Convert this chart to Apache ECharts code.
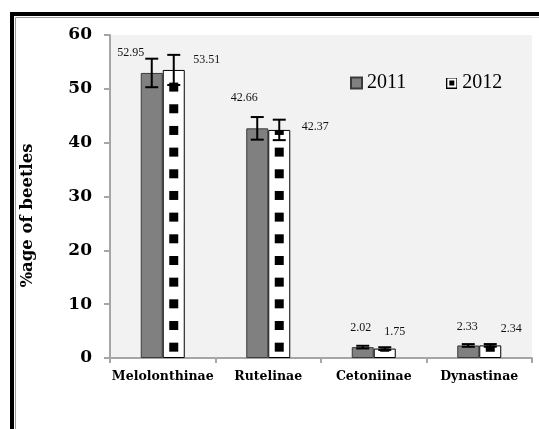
<!DOCTYPE html>
<html>
<head>
<meta charset="utf-8">
<style>
  html, body { margin: 0; padding: 0; background: #fff; }
  #chart { width: 539px; height: 429px; }
</style>
<script src="https://cdn.jsdelivr.net/npm/echarts@6/dist/echarts.min.js"></script>
</head>
<body>
<div id="chart"></div>
<script>
var categories = ['Melolonthinae', 'Rutelinae', 'Cetoniinae', 'Dynastinae'];
var values2011 = [52.95, 42.66, 2.02, 2.33];
var values2012 = [53.51, 42.37, 1.75, 2.34];
var errors2011 = [2.65, 2.1, 0.25, 0.25];
var errors2012 = [2.8, 1.9, 0.25, 0.25];
var yTicks = [0, 10, 20, 30, 40, 50, 60];

// hand placed value labels, like the original
var labelShift2011 = [[-21, -9], [-13, -20], [-2, -8], [-1, -8]];
var labelShift2012 = [[33, 1], [36, 8], [10, -6], [21, -6]];

var heavy = 'DejaVu Serif';
var serif = 'Liberation Serif';

function legendIcon() {
  var c = document.createElement('canvas');
  c.width = 11; c.height = 11;
  var g = c.getContext('2d');
  g.fillStyle = '#fff';
  g.fillRect(0, 0, 11, 11);
  g.strokeStyle = '#000';
  g.lineWidth = 1;
  g.strokeRect(0.5, 0.5, 10, 10);
  g.fillStyle = '#000';
  g.fillRect(3, 3, 5, 5);
  return 'image://' + c.toDataURL();
}

function barData(values, shifts) {
  return values.map(function (v, i) {
    return { value: v, label: { offset: shifts[i] } };
  });
}

function errorSeries(name, values, errors, shift) {
  return {
    type: 'custom',
    name: name,
    z: 5,
    silent: true,
    data: values.map(function (v, i) { return [i, v, errors[i]]; }),
    encode: { x: 0, y: 1 },
    renderItem: function (params, api) {
      var i = api.value(0), v = api.value(1), e = api.value(2);
      var hi = api.coord([i, v + e]);
      var lo = api.coord([i, v - e]);
      var x = hi[0] + shift;
      var st = { stroke: '#000', lineWidth: 2 };
      return {
        type: 'group',
        children: [
          { type: 'line', shape: { x1: x, y1: hi[1], x2: x, y2: lo[1] }, style: st },
          { type: 'line', shape: { x1: x - 6.5, y1: hi[1], x2: x + 6.5, y2: hi[1] }, style: st },
          { type: 'line', shape: { x1: x - 6.5, y1: lo[1], x2: x + 6.5, y2: lo[1] }, style: st }
        ]
      };
    }
  };
}

var chart = echarts.init(document.getElementById('chart'));

chart.setOption({
  animation: false,
  backgroundColor: '#fff',
  graphic: [
    { type: 'rect', shape: { x: 12, y: 14, width: 600, height: 500 },
      style: { fill: 'none', stroke: '#000', lineWidth: 4 }, z: -1 },
    { type: 'rect', shape: { x: 15.5, y: 17.5, width: 600, height: 500 },
      style: { fill: 'none', stroke: '#9a9a9a', lineWidth: 1 }, z: -1 }
  ],
  grid: {
    left: 110, right: 7, top: 35, bottom: 71,
    show: true, backgroundColor: '#f2f2f2', borderWidth: 0
  },
  legend: {
    data: [
      { name: '2011', icon: 'rect' },
      { name: '2012', icon: legendIcon() }
    ],
    left: 345, top: 68,
    itemWidth: 11, itemHeight: 11, itemGap: 40,
    textStyle: { fontFamily: serif, fontSize: 20, color: '#000' }
  },
  xAxis: {
    type: 'category',
    data: categories,
    axisLine: { lineStyle: { color: '#a6a6a6', width: 2 } },
    axisTick: { show: true, length: 5, lineStyle: { color: '#a6a6a6', width: 2 } },
    axisLabel: { interval: 0, fontFamily: heavy, fontWeight: 'bold', fontSize: 12.5, color: '#000', margin: 12 }
  },
  yAxis: {
    type: 'value',
    min: yTicks[0], max: yTicks[yTicks.length - 1], interval: 10,
    name: '%age of beetles',
    nameLocation: 'middle',
    nameRotate: 90,
    nameGap: 74,
    nameTextStyle: { fontFamily: heavy, fontWeight: 'bold', fontSize: 16.5, color: '#000', padding: [0, 38, 0, 0] },
    axisLine: { show: true, lineStyle: { color: '#a6a6a6', width: 2 } },
    axisTick: { show: true, length: 6, lineStyle: { color: '#a6a6a6', width: 2 } },
    splitLine: { show: false },
    axisLabel: { fontFamily: heavy, fontWeight: 'bold', fontSize: 17, color: '#000', margin: 18 }
  },
  series: [
    {
      type: 'bar', name: '2011',
      data: barData(values2011, labelShift2011),
      barWidth: 22, barGap: '0%',
      itemStyle: { color: '#808080', borderColor: '#3a3a3a', borderWidth: 1 },
      label: { show: true, position: 'top', fontFamily: serif, fontSize: 12, color: '#111' }
    },
    {
      type: 'bar', name: '2012',
      data: barData(values2012, labelShift2012),
      barWidth: 22, barGap: '0%',
      itemStyle: { color: '#fff', borderColor: '#000', borderWidth: 1 },
      label: { show: true, position: 'top', fontFamily: serif, fontSize: 12, color: '#111' }
    },
    {
      // square dot fill of the 2012 bars, anchored at the base and cut at the value
      type: 'pictorialBar', name: '2012 pattern',
      data: values2012,
      symbol: 'rect',
      symbolSize: [9, 9],
      symbolRepeat: true,
      symbolMargin: '6.4!',
      symbolBoundingData: 56.36,
      symbolClip: true,
      symbolOffset: [11, 0],
      itemStyle: { color: '#000' },
      silent: true,
      z: 3
    },
    errorSeries('err2011', values2011, errors2011, -11),
    errorSeries('err2012', values2012, errors2012, 11)
  ]
});
</script>
</body>
</html>
